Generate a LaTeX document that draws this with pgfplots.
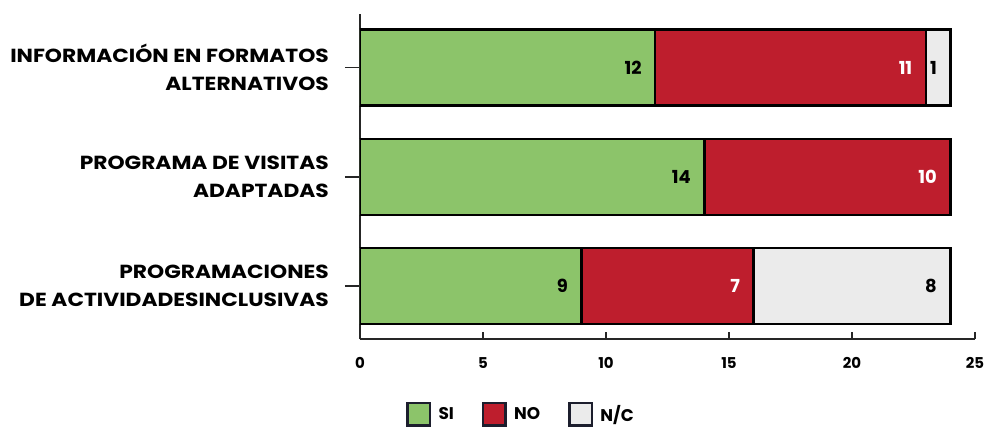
\documentclass[border=0pt]{standalone}
\usepackage{fontspec}
\setmainfont{Poppins}
\newfontfamily\catfont{Poppins}[FakeStretch=1.15]
\usepackage{pgfplots}
\usepackage{pgfplotstable}
\pgfplotsset{compat=1.18}
\definecolor{cSI}{RGB}{140,196,106}
\definecolor{cNO}{RGB}{190,30,45}
\definecolor{cNC}{RGB}{235,235,235}
\definecolor{legbord}{RGB}{28,30,45}
\pgfplotstableread{
idx si no nc
0 9 7 8
1 14 10 0
2 12 11 1
}\datatab
\begin{document}
\begin{tikzpicture}[x=1bp,y=1bp]
\useasboundingbox (-360,-90) rectangle (626,339);
\begin{axis}[
  at={(0,0)}, anchor=south west,
  scale only axis, width=615bp, height=325bp,
  xbar stacked, bar width=76bp,
  xmin=0, xmax=25, ymin=-0.485, ymax=2.49,
  axis lines*=left,
  axis line style={line width=1.5bp, black!85},
  xtick={0,5,10,15,20,25},
  ytick={0,1,2},
  yticklabels={{PROGRAMACIONES~\\DE ACTIVIDADESINCLUSIVAS},{PROGRAMA DE VISITAS\\ADAPTADAS},{INFORMACIÓN EN FORMATOS\\ALTERNATIVOS}},
  xtick align=inside, ytick align=outside,
  major tick length=7bp,
  tick style={line width=1.5bp, black!85},
  ytick style={/pgfplots/major tick length=15bp},
  xticklabel style={font=\bfseries\fontsize{15}{17}\selectfont, inner sep=0pt, anchor=north, yshift=-18bp},
  yticklabel style={font=\catfont\bfseries\fontsize{19}{28.5}\selectfont, align=right, inner sep=0pt, anchor=east, xshift=-24bp},
  /pgf/number format/assume math mode=true,
  point meta=explicit,
  nodes near coords={\pgfmathfloatifflags{\pgfplotspointmeta}{0}{}{\pgfmathprintnumber{\pgfplotspointmeta}}},
  every node near coord/.append style={anchor=east, xshift=12.3bp*\segval-9bp, font=\bfseries\fontsize{18}{20}\selectfont},
  legend columns=-1,
  legend style={draw=none, fill=none, inner sep=0pt, at={(0.075,-0.232)}, anchor=west,
    font=\bfseries\fontsize{17}{20}\selectfont,
    /tikz/every even column/.append style={column sep=26bp}},
  legend image code/.code={\draw[#1, draw=legbord, line width=2.5bp] (1.25bp,-11.25bp) rectangle (23.75bp,11.25bp); \path (29bp,0bp);},
]
\addplot[fill=cSI, draw=black, line width=2.5bp, visualization depends on={\thisrow{si} \as \segval}, every node near coord/.append style={text=black}] table[x=si, y=idx, meta=si] {\datatab};
\addplot[fill=cNO, draw=black, line width=2.5bp, visualization depends on={\thisrow{no} \as \segval}, every node near coord/.append style={text=white}] table[x=no, y=idx, meta=no] {\datatab};
\addplot[fill=cNC, draw=black, line width=2.5bp, visualization depends on={\thisrow{nc} \as \segval}, every node near coord/.append style={text=black}] table[x=nc, y=idx, meta=nc] {\datatab};
\legend{SI, NO, N/C}
\end{axis}
\end{tikzpicture}
\end{document}
